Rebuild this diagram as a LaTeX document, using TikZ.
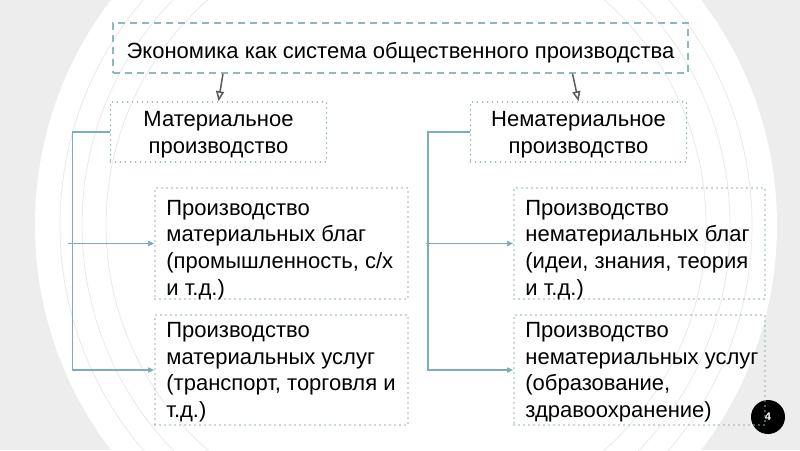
\documentclass[tikz,border=0pt]{standalone}
\usepackage{fontspec}
\setmainfont{Liberation Sans}
\usetikzlibrary{arrows.meta}
\definecolor{bgcol}{HTML}{EDEDED}
\definecolor{ringcol}{HTML}{E9E9E9}
\definecolor{conncol}{HTML}{7AAFB9}
\definecolor{dashcol}{HTML}{8DB8BD}
\definecolor{dotcol}{HTML}{8FB3B8}
\definecolor{arrcol}{HTML}{5A5A5A}
\tikzset{
  txt/.style={font=\fontsize{22}{26.7}\selectfont, text=black},
  topbox/.style={txt, draw=dashcol, line width=1.5pt, dash pattern=on 7pt off 5pt,
    minimum width=575, minimum height=50, inner sep=0pt, text height=20pt, text depth=0pt},
  dotbox/.style={draw=dotcol, line width=1.6pt, line cap=round, dash pattern=on 0pt off 5pt,
    inner sep=0pt},
  midtxt/.style={txt, align=center, inner sep=0pt, anchor=north},
  bodytxt/.style={txt, align=flush left, inner sep=0pt, anchor=north west},
  toparrow/.style={draw=arrcol, line width=1.5pt, -{Triangle[open,length=10pt,width=8pt]}},
  conn/.style={draw=conncol, line width=1.6pt, -{Triangle[open,length=6pt,width=5pt]}},
  badge/.style={circle, fill=black, minimum size=34, inner sep=0pt, text=white,
    font=\bfseries\fontsize{11}{11}\selectfont}
}
\begin{document}
\begin{tikzpicture}[x=1pt,y=-1pt]
\useasboundingbox (0,0) rectangle (800,450);
\fill[bgcol] (0,0) rectangle (800,450);
\begin{scope}
  \clip (0,0) rectangle (800,450);
  \fill[white] (406,225) circle[radius=371];
  \foreach \r in {300,324,346}
    \draw[ringcol, line width=0.8pt] (406,225) circle[radius=\r];
\end{scope}

\node[badge] (pg) at (768,417) {4};

\node[topbox] (eco) at (400.5,48) {Экономика как система общественного производства};

% middle level boxes
\node[dotbox, minimum width=216, minimum height=60] (mat) at (218.5,132) {};
\node[dotbox, minimum width=216, minimum height=60] (nmat) at (578.5,132) {};
\node[midtxt] (matt) at ([shift={(0,10)}]mat.north) {Материальное\\производство};
\node[midtxt] (nmatt) at ([shift={(0,10)}]nmat.north) {Нематериальное\\производство};

% lower boxes
\node[dotbox, minimum width=253, minimum height=111] (mg) at (281.5,243.5) {};
\node[dotbox, minimum width=253, minimum height=110] (ms) at (281.5,370) {};
\node[dotbox, minimum width=251, minimum height=111] (ng) at (639.5,243.5) {};
\node[dotbox, minimum width=251, minimum height=110] (ns) at (639.5,370) {};

\node[bodytxt] (mgt) at ([shift={(12,12.5)}]mg.north west)
  {Производство\\материальных благ\\(промышленность, с/х\\и т.д.)};
\node[bodytxt] (mst) at ([shift={(12,8)}]ms.north west)
  {Производство\\материальных услуг\\(транспорт, торговля и\\т.д.)};
\node[bodytxt] (ngt) at ([shift={(12,12.5)}]ng.north west)
  {Производство\\нематериальных благ\\(идеи, знания, теория\\и т.д.)};
\node[bodytxt] (nst) at ([shift={(12,8)}]ns.north west)
  {Производство\\нематериальных услуг\\(образование,\\здравоохранение)};

\draw[toparrow] ([xshift=4.5pt]eco.south -| mat.north) -- (mat.north);
\draw[toparrow] ([xshift=-6pt]eco.south -| nmat.north) -- (nmat.north);

\coordinate (lv) at (72.5,0);
\coordinate (lj) at (68,0);
\coordinate (rv) at (428,0);
\coordinate (rj) at (426,0);
\draw[conn] (mat.west) -- (mat.west -| lv) |- (ms.west);
\draw[conn] (lj |- mg.west) -- (mg.west);
\draw[conn] (nmat.west) -- (nmat.west -| rv) |- (ns.west);
\draw[conn] (rj |- ng.west) -- (ng.west);
\end{tikzpicture}
\end{document}
